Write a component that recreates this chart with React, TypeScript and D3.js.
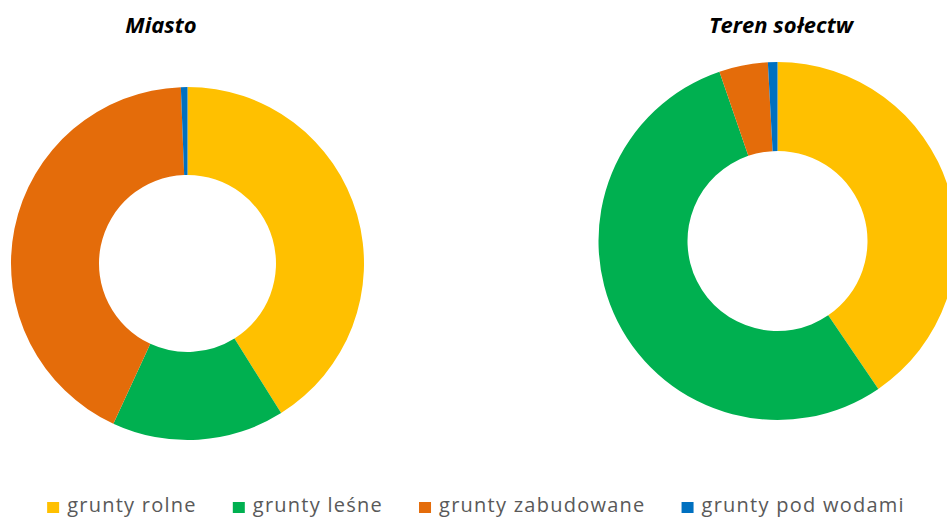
import React from "react";
import * as d3 from "d3";

const categories = ["grunty rolne", "grunty leśne", "grunty zabudowane", "grunty pod wodami"];
const colors = ["#FFC000", "#00B050", "#E46C0A", "#0070C0"];
const miastoValues = [41.1, 15.8, 42.5, 0.6];
const solectwaValues = [40.5, 54.3, 4.4, 0.86];
const titles = ["Miasto", "Teren sołectw"];

const W = 947;
const H = 518;

type DonutProps = { values: number[]; cx: number; cy: number; r: number; ri: number };

function Donut({ values, cx, cy, r, ri }: DonutProps) {
  const pie = d3.pie<number>().sort(null).startAngle(0).endAngle(2 * Math.PI);
  const arc = d3.arc<d3.PieArcDatum<number>>().innerRadius(ri).outerRadius(r);
  const arcs = pie(values);
  return (
    <g transform={`translate(${cx},${cy})`}>
      {arcs.map((a, i) => (
        <path key={i} d={arc(a) || ""} fill={colors[i]} />
      ))}
    </g>
  );
}

function Legend() {
  const ref = React.useRef<SVGGElement>(null);
  React.useEffect(() => {
    const g = d3.select(ref.current);
    g.selectAll("*").remove();
    const sq = 12;
    const gapSq = 8;
    const gapItem = 36;
    const items = g
      .selectAll("g.item")
      .data(categories)
      .join("g")
      .attr("class", "item");
    items
      .append("rect")
      .attr("width", sq)
      .attr("height", 11)
      .attr("y", -10)
      .attr("fill", (_d, i) => colors[i]);
    items
      .append("text")
      .attr("x", sq + gapSq)
      .attr("y", 0)
      .attr("font-family", "'Open Sans', sans-serif")
      .attr("font-size", 20)
      .attr("letter-spacing", 1.25)
      .attr("fill", "#595959")
      .text((d) => d);
    let x = 0;
    items.each(function () {
      const node = this as SVGGElement;
      const t = node.querySelector("text") as SVGTextElement;
      const w = sq + gapSq + t.getComputedTextLength();
      d3.select(node).attr("transform", `translate(${x},0)`);
      x += w + gapItem;
    });
    const total = x - gapItem;
    g.attr("transform", `translate(${476 - total / 2},512)`);
  }, []);
  return <g ref={ref} />;
}

export default function App() {
  return (
    <svg
      width={W}
      height={H}
      style={{ position: "absolute", left: 0, top: 0, background: "#fff" }}
    >
      <text
        x={161}
        y={33}
        textAnchor="middle"
        fontFamily="'Open Sans', sans-serif"
        fontWeight="bold"
        fontStyle="italic"
        fontSize={22}
        fill="#000"
      >
        {titles[0]}
      </text>
      <text
        x={781}
        y={33}
        textAnchor="middle"
        fontFamily="'Open Sans', sans-serif"
        fontWeight="bold"
        fontStyle="italic"
        fontSize={22}
        fill="#000"
      >
        {titles[1]}
      </text>
      <Donut values={miastoValues} cx={187.5} cy={263.5} r={176.5} ri={88.5} />
      <Donut values={solectwaValues} cx={777.5} cy={241} r={179} ri={90} />
      <Legend />
    </svg>
  );
}
